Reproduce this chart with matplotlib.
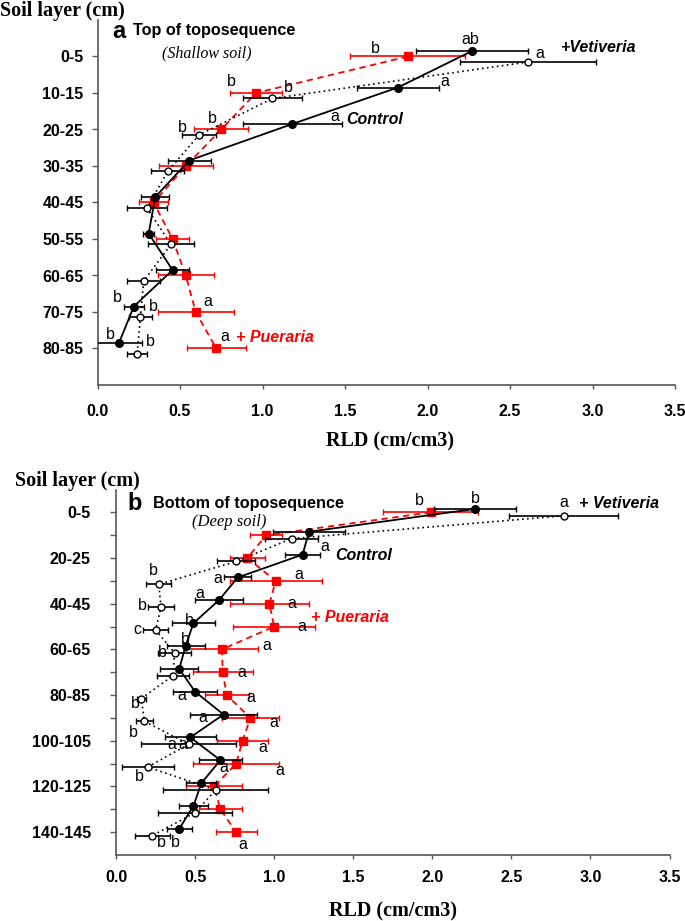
import matplotlib
matplotlib.use('Agg')
from matplotlib import pyplot as plt

# ---- data ----
layers_a = ['0-5', '10-15', '20-25', '30-35', '40-45', '50-55', '60-65', '70-75', '80-85']
ctrl_a = [2.27, 1.82, 1.18, 0.555, 0.35, 0.31, 0.455, 0.22, 0.13]
ctrl_a_err = [0.34, 0.25, 0.30, 0.13, 0.085, 0.035, 0.10, 0.06, 0.14]
puer_a = [1.88, 0.96, 0.75, 0.535, 0.34, 0.455, 0.535, 0.595, 0.72]
puer_a_err = [0.35, 0.16, 0.165, 0.165, 0.09, 0.10, 0.17, 0.23, 0.18]
veti_a = [2.61, 1.06, 0.615, 0.425, 0.30, 0.445, 0.28, 0.26, 0.24]
veti_a_err = [0.41, 0.18, 0.105, 0.10, 0.12, 0.14, 0.10, 0.07, 0.06]
ctrl_a_lab = ['ab', 'a', 'a', '', '', '', '', 'b', 'b']
puer_a_lab = ['b', 'b', 'b', '', '', '', '', 'a', 'a']
veti_a_lab = ['a', 'b', 'b', '', '', '', '', 'b', 'b']

layers_b = ['0-5', '10-15', '20-25', '30-35', '40-45', '50-55', '60-65', '70-75',
            '80-85', '90-95', '100-105', '110-115', '120-125', '130-135', '140-145']
ctrl_b = [2.27, 1.22, 1.18, 0.77, 0.65, 0.49, 0.44, 0.40, 0.50, 0.68, 0.47, 0.66, 0.54, 0.49, 0.40]
ctrl_b_err = [0.26, 0.23, 0.11, 0.085, 0.15, 0.135, 0.12, 0.12, 0.14, 0.21, 0.16, 0.135, 0.095, 0.09, 0.08]
puer_b = [1.99, 0.95, 0.83, 1.01, 0.97, 1.00, 0.67, 0.675, 0.70, 0.85, 0.80, 0.76, 0.62, 0.66, 0.76]
puer_b_err = [0.30, 0.10, 0.11, 0.29, 0.25, 0.26, 0.23, 0.19, 0.14, 0.18, 0.16, 0.27, 0.175, 0.135, 0.13]
veti_b = [2.83, 1.11, 0.76, 0.27, 0.285, 0.25, 0.37, 0.36, 0.16, 0.18, 0.46, 0.20, 0.63, 0.50, 0.23]
veti_b_err = [0.345, 0.165, 0.12, 0.08, 0.08, 0.08, 0.105, 0.10, 0.03, 0.055, 0.30, 0.165, 0.33, 0.235, 0.11]
ctrl_b_lab = ['b', '', 'a', 'a', 'a', 'b', 'b', '', 'a', 'a', 'a', 'a', '', '', 'b']
puer_b_lab = ['b', '', '', 'a', 'a', 'a', 'a', 'a', 'a', 'a', 'a', 'a', '', '', 'a']
veti_b_lab = ['a', '', '', 'b', 'b', 'c', 'b', '', 'b', 'b', 'a', 'b', '', '', 'b']

# ---- letter offsets in pixels (dx right, dy down) ----
ctrl_a_off = [(-2, -12), (47, -6), (43, -8), None, None, None, None, (-16, -9), (-9, -9)]
puer_a_off = [(-32, -8), (-25, -11), (-9, -11), None, None, None, None, (12, -11), (9, -12)]
veti_a_off = [(12, -8), (16, -11), (-17, -7), None, None, None, None, (13, -11), (13, -12)]
ctrl_b_off = [(0, -10), None, (22, -8), (-20, 1), (-19, -7), (-4, -3), (0, -6), None,
              (-13, 4), (-21, 3), (-19, 7), (3, 7), None, None, (-4, 14)]
puer_b_off = [(-11, -12), None, None, (23, -6), (22, 0), (28, 0), (45, -4), (19, 0),
              (24, 2), (23, 5), (20, 7), (44, 7), None, None, (7, 12)]
veti_b_off = [(0, -13), None, None, (-5, -14), (-19, -2), (-18, 0), (-12, 0), None,
              (-6, 5), (-11, 11), (-6, 0), (-8, 9), None, None, (9, 7)]

SANS = 'Liberation Sans'
SERIF = 'Liberation Serif'
RED = '#ff0000'
W, H = 685, 921


def fx(px):
    return px / W


def fy(py):
    return 1 - py / H


def draw_panel(ax, layers, series, ylab_pad, xlab_pad):
    n = len(layers)
    shift = 0.15
    for vals, errs, labs, offs, style in series:
        ys = [i + style['dy'] * shift for i in range(n)]
        ax.errorbar(vals, ys, xerr=errs, color=style['color'], ls=style['ls'],
                    lw=style['lw'], marker=style['marker'], ms=style['ms'],
                    mfc=style['mfc'], mec=style['color'], mew=1.0,
                    ecolor=style['color'], elinewidth=1.2, capsize=2.5, capthick=1.2,
                    zorder=style['z'])
        for v, y, lab, off in zip(vals, ys, labs, offs):
            if lab and off:
                ax.annotate(lab, (v, y), xytext=(off[0], -off[1]), textcoords='offset pixels',
                            ha='center', va='center', fontsize=11.5, family=SANS,
                            color='black', zorder=6)
    ax.set_xlim(0, 3.5)
    ax.set_ylim(n, -1)
    ax.set_xticks([0, 0.5, 1.0, 1.5, 2.0, 2.5, 3.0, 3.5])
    ax.set_xticklabels(['0.0', '0.5', '1.0', '1.5', '2.0', '2.5', '3.0', '3.5'],
                       fontsize=11.5, fontweight='bold', family=SANS)
    ax.set_yticks(range(n))
    ylabels = layers if n < 10 else [l if i % 2 == 0 else '' for i, l in enumerate(layers)]
    ax.set_yticklabels(ylabels, fontsize=11.5, fontweight='bold', family=SANS)
    ax.tick_params(axis='y', length=4, width=1.0, pad=ylab_pad, color='#555555')
    ax.tick_params(axis='x', length=3, width=1.0, pad=xlab_pad, color='#555555')
    for s in ['top', 'right']:
        ax.spines[s].set_visible(False)
    for s in ['left', 'bottom']:
        ax.spines[s].set_color('#555555')
        ax.spines[s].set_linewidth(1.2)


ctrl_style = dict(color='black', ls='-', lw=1.3, marker='o', ms=5.5, mfc='black', dy=-1, z=4)
puer_style = dict(color=RED, ls=(0, (3.5, 2.5)), lw=1.3, marker='s', ms=5.5, mfc=RED, dy=0, z=3)
veti_style = dict(color='black', ls=(0, (1, 2)), lw=1.2, marker='o', ms=5, mfc='white', dy=1, z=5)

fig = plt.figure(figsize=(6.85, 9.21), dpi=100)

ax1 = fig.add_axes([fx(97.5), fy(385), fx(675) - fx(97.5), fy(20) - fy(385)])
draw_panel(ax1, layers_a, [
    (ctrl_a, ctrl_a_err, ctrl_a_lab, ctrl_a_off, ctrl_style),
    (puer_a, puer_a_err, puer_a_lab, puer_a_off, puer_style),
    (veti_a, veti_a_err, veti_a_lab, veti_a_off, veti_style),
], ylab_pad=6, xlab_pad=11)

ax2 = fig.add_axes([fx(116), fy(855), fx(669.5) - fx(116), fy(489.5) - fy(855)])
draw_panel(ax2, layers_b, [
    (ctrl_b, ctrl_b_err, ctrl_b_lab, ctrl_b_off, ctrl_style),
    (puer_b, puer_b_err, puer_b_lab, puer_b_off, puer_style),
    (veti_b, veti_b_err, veti_b_lab, veti_b_off, veti_style),
], ylab_pad=14, xlab_pad=8)

# axis titles
fig.text(fx(0), fy(11), 'Soil layer (cm)', fontsize=14.5, fontweight='bold', family=SERIF,
         ha='left', va='center')
fig.text(fx(15), fy(481), 'Soil layer (cm)', fontsize=14.5, fontweight='bold', family=SERIF,
         ha='left', va='center')
fig.text(fx(390), fy(441), 'RLD (cm/cm3)', fontsize=14.5, fontweight='bold', family=SERIF,
         ha='center', va='center')
fig.text(fx(393), fy(911), 'RLD (cm/cm3)', fontsize=14.5, fontweight='bold', family=SERIF,
         ha='center', va='center')

# panel headings
fig.text(fx(112), fy(31), 'a', fontsize=17, fontweight='bold', family=SANS, ha='left', va='center')
fig.text(fx(133), fy(30), 'Top of toposequence', fontsize=11.7, fontweight='bold', family=SANS,
         ha='left', va='center')
fig.text(fx(162), fy(53), '(Shallow soil)', fontsize=11.5, style='italic', family=SERIF,
         ha='left', va='center')
fig.text(fx(127), fy(503), 'b', fontsize=17, fontweight='bold', family=SANS, ha='left', va='center')
fig.text(fx(153), fy(503), 'Bottom of toposequence', fontsize=11.7, fontweight='bold', family=SANS,
         ha='left', va='center')
fig.text(fx(192), fy(522), '(Deep soil)', fontsize=12, style='italic', family=SERIF,
         ha='left', va='center')

# series names
series_txt = dict(fontsize=11.5, fontweight='bold', style='italic', family=SANS, ha='left', va='center')
fig.text(fx(560), fy(47), '+Vetiveria', color='black', **series_txt)
fig.text(fx(346), fy(119), 'Control', color='black', **series_txt)
fig.text(fx(236), fy(337), '+ Pueraria', color=RED, **series_txt)
fig.text(fx(579), fy(503), '+ Vetiveria', color='black', **series_txt)
fig.text(fx(335), fy(555), 'Control', color='black', **series_txt)
fig.text(fx(311), fy(617), '+ Pueraria', color=RED, **series_txt)

fig.savefig('out.png', dpi=100)
